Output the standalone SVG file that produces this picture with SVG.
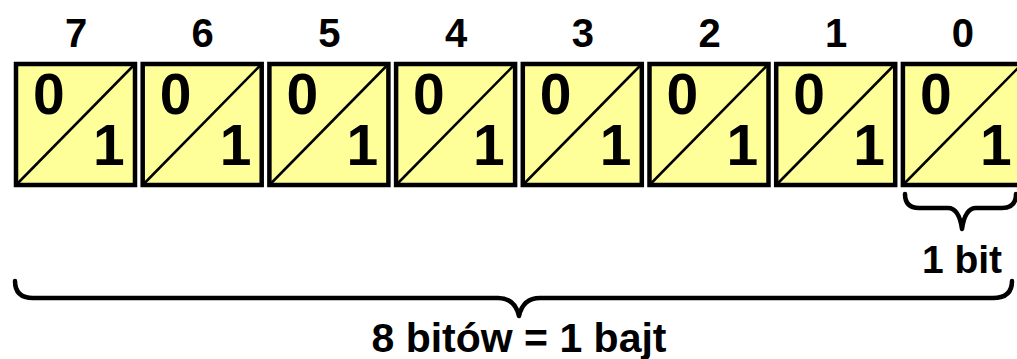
<svg xmlns="http://www.w3.org/2000/svg" width="1017" height="359" viewBox="0 0 1017 359">
<defs>
<style>
.box{fill:#FFFF99;stroke:#000;stroke-width:4.5}
.diag{stroke:#000;stroke-width:2.5;fill:none}
.t{font-family:"Liberation Sans",Arial,sans-serif;font-weight:bold;fill:#000}
.d{font-size:57px}
.idx{font-size:40px;text-anchor:middle}
.brace{fill:none;stroke:#000;stroke-width:4.5;stroke-linecap:round;stroke-linejoin:round}
.lbl{font-size:39px;text-anchor:middle}
.big{font-size:41px}
</style>
<g id="cell">
<rect class="box" x="0" y="0" width="119" height="121"/>
<line class="diag" x1="0" y1="121" x2="119" y2="0"/>
<text class="t d" x="17" y="50">0</text>
<text class="t d" x="77" y="101">1</text>
</g>
</defs>
<g id="bit7"><use href="#cell" x="16" y="64"/><text class="t idx" x="76" y="47">7</text></g>
<g id="bit6"><use href="#cell" x="142.7" y="64"/><text class="t idx" x="202.7" y="47">6</text></g>
<g id="bit5"><use href="#cell" x="269.4" y="64"/><text class="t idx" x="329.4" y="47">5</text></g>
<g id="bit4"><use href="#cell" x="396.1" y="64"/><text class="t idx" x="456.1" y="47">4</text></g>
<g id="bit3"><use href="#cell" x="522.8" y="64"/><text class="t idx" x="582.8" y="47">3</text></g>
<g id="bit2"><use href="#cell" x="649.5" y="64"/><text class="t idx" x="709.5" y="47">2</text></g>
<g id="bit1"><use href="#cell" x="776.2" y="64"/><text class="t idx" x="836.2" y="47">1</text></g>
<g id="bit0"><use href="#cell" x="902.9" y="64"/><text class="t idx" x="962.9" y="47">0</text></g>
<g id="connectors">
<path class="brace" d="M905 194 Q905 208 919 208 L948 208 Q959 208 962 229 Q965 208 976 208 L1002 208 Q1016 208 1016 194"/>
<path class="brace" d="M15 281 Q15 298 33 298 L498 298 Q515 298 519 316 Q523 298 540 298 L993 298 Q1012 298 1012 281"/>
</g>
<g id="label-bit"><text class="t lbl" x="962" y="273">1 bit</text></g>
<g id="label-byte"><text class="t lbl big" x="519" y="352">8 bitów = 1 bajt</text></g>
</svg>
